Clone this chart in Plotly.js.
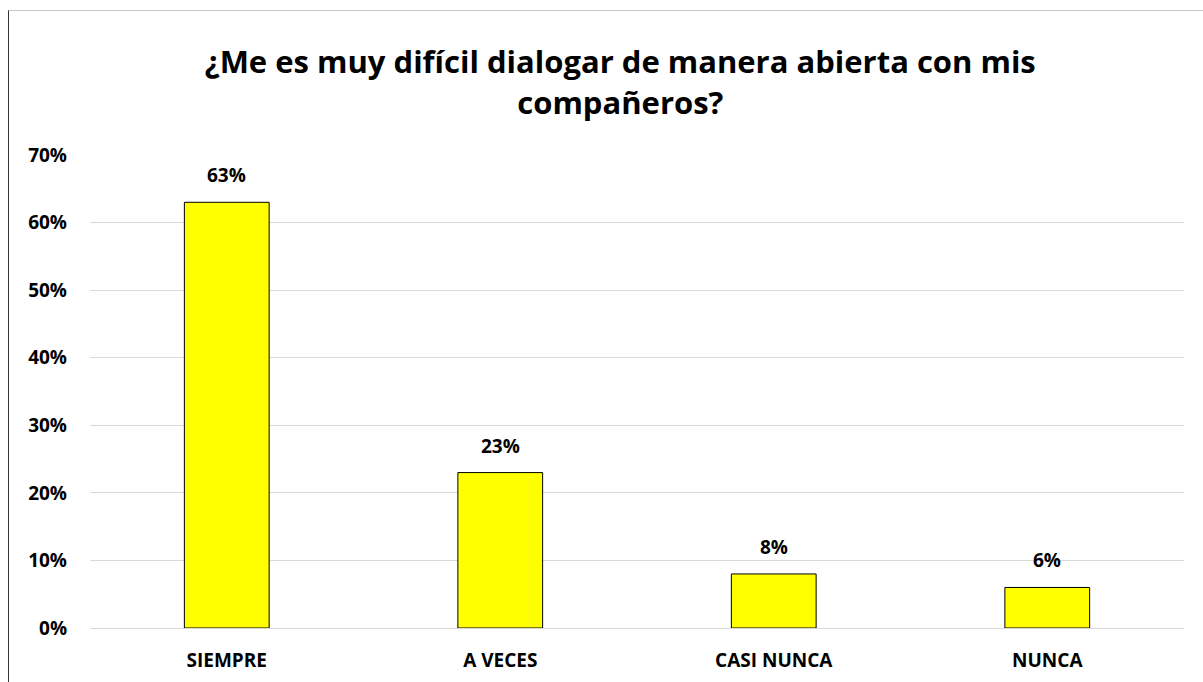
<!DOCTYPE html>
<html>
<head>
<meta charset="utf-8">
<script src="https://cdn.plot.ly/plotly-3.0.1.min.js"></script>
<style>
  body { margin: 0; background: #fff; }
  #frame {
    position: absolute; left: 8px; top: 10px;
    width: 1195px; height: 672px;
    border-left: 1.5px solid #333;
    border-top: 1px solid #c8c8c8;
  }
  #chart { width: 1194px; height: 671px; }
</style>
</head>
<body>
<div id="frame"><div id="chart"></div></div>
<script>
const categories = ['SIEMPRE', 'A VECES', 'CASI NUNCA', 'NUNCA']
const percentages = [0.63, 0.23, 0.08, 0.06]
const labels = ['63%', '23%', '8%', '6%']

const font = '"Open Sans", Calibri, sans-serif'

const trace = {
  x: categories,
  y: percentages,
  type: 'bar',
  width: 0.31,
  marker: { color: '#ffff00', line: { color: '#000', width: 1 } },
  hoverinfo: 'x+y',
}

// value labels sit a little higher than plotly's outside text would
const annotations = categories.map((c, i) => ({
  x: c,
  y: percentages[i],
  text: '<b>' + labels[i] + '</b>',
  showarrow: false,
  yanchor: 'bottom',
  yshift: 12,
  font: { family: font, size: 19, color: '#000' },
}))

const layout = {
  width: 1194,
  height: 671,
  margin: { l: 81, r: 19, t: 144, b: 54 },
  paper_bgcolor: '#fff',
  plot_bgcolor: '#fff',
  showlegend: false,
  font: { family: font, color: '#000' },
  title: {
    text: '<b>¿Me es muy difícil dialogar de manera abierta con mis<br>compañeros?</b>',
    font: { family: font, size: 31, color: '#000' },
    x: 0.512,
    xanchor: 'center',
    y: 0.907,
    yanchor: 'middle',
  },
  annotations,
  xaxis: {
    showline: false,
    ticks: '',
    ticklabelstandoff: 19,
    tickfont: { family: font, size: 19, color: '#000', weight: 'bold' },
  },
  yaxis: {
    range: [0, 0.7],
    dtick: 0.1,
    tickformat: '.0%',
    gridcolor: '#d9d9d9',
    zerolinecolor: '#d9d9d9',
    showline: false,
    ticks: '',
    ticklabelstandoff: 22,
    tickfont: { family: font, size: 19, color: '#000', weight: 'bold' },
  },
}

Plotly.newPlot('chart', [trace], layout, { displayModeBar: false })
</script>
</body>
</html>
